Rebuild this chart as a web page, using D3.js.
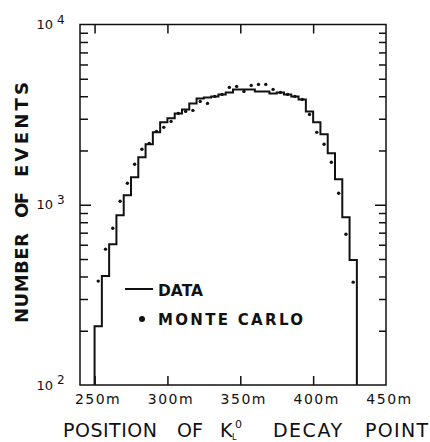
<!DOCTYPE html>
<html>
<head>
<meta charset="utf-8">
<script src="https://cdn.jsdelivr.net/npm/d3@7"></script>
<style>
  html, body { margin: 0; padding: 0; background: #fff; }
  svg text { font-family: "DejaVu Sans", sans-serif; fill: #111; }
</style>
</head>
<body>
<div id="chart"></div>
<script>
// lower edge of each 5 m bin
const binStarts = [250, 255, 260, 265, 270, 275, 280, 285, 290, 295, 300, 305,
  310, 315, 320, 325, 330, 335, 340, 345, 350, 355, 360, 365,
  370, 375, 380, 385, 390, 395, 400, 405, 410, 415, 420, 425];
const binWidth = 5;

// measured histogram (DATA)
const dataCounts = [212, 402, 604, 875, 1129, 1420, 1833, 2164, 2522, 2865, 3015, 3213,
  3381, 3650, 3890, 3940, 3991, 4094, 4201, 4364, 4364, 4364, 4255, 4255,
  4147, 4201, 4094, 3991, 3841, 3296, 2865, 2458, 1929, 1385, 853, 493];

// Monte Carlo points, one per bin centre
const mcCounts = [377, 567, 741, 1046, 1316, 1677, 2030, 2190, 2554, 2688, 2901, 3213,
  3296, 3338, 3745, 3650, 3991, 4094, 4477, 4536, 4255, 4592, 4652, 4652,
  4364, 4201, 4094, 3991, 3841, 3171, 2522, 2164, 1720, 1158, 686, 372];

const xTicks = [250, 300, 350, 400, 450];
const xTickLabels = ['250m', '300m', '350m', '400m', '450m'];
const yDecades = [100, 1000, 10000];
const yExponents = ['2', '3', '4'];

const width = 430, height = 442;
const svg = d3.select('#chart').append('svg')
  .attr('width', width).attr('height', height);

const x = d3.scaleLinear().domain([240, 450]).range([80, 386]);
const y = d3.scaleLog().domain([100, 10000]).range([385, 24.5]);

const minorTicks = [];
yDecades.slice(0, 2).forEach(d => {
  for (let k = 2; k <= 9; k++) minorTicks.push(d * k);
});

// frame
svg.append('rect')
  .attr('x', x(240)).attr('y', y(10000))
  .attr('width', x(450) - x(240)).attr('height', y(100) - y(10000))
  .attr('fill', 'none').attr('stroke', '#111').attr('stroke-width', 1.5);

function styleAxis(g) {
  g.select('.domain').remove();
  g.selectAll('.tick line').attr('stroke', '#111').attr('stroke-width', 1.5);
}

// left ticks (inward)
svg.append('g').attr('transform', `translate(${x(240)},0)`)
  .call(d3.axisRight(y).tickValues(minorTicks).tickSize(8).tickFormat(''))
  .call(styleAxis);
svg.append('g').attr('transform', `translate(${x(240)},0)`)
  .call(d3.axisRight(y).tickValues([1000]).tickSize(11).tickFormat(''))
  .call(styleAxis);

// right ticks (inward)
svg.append('g').attr('transform', `translate(${x(450)},0)`)
  .call(d3.axisLeft(y).tickValues(minorTicks).tickSize(7).tickFormat(''))
  .call(styleAxis);
svg.append('g').attr('transform', `translate(${x(450)},0)`)
  .call(d3.axisLeft(y).tickValues([1000]).tickSize(11).tickFormat(''))
  .call(styleAxis);

// top ticks
svg.append('g').attr('transform', `translate(0,${y(10000)})`)
  .call(d3.axisBottom(x).tickValues(xTicks.slice(0, 4)).tickSize(9).tickFormat(''))
  .call(styleAxis);

// bottom ticks + labels
const xAxisG = svg.append('g').attr('transform', `translate(0,${y(100)})`)
  .call(d3.axisBottom(x).tickValues(xTicks)
    .tickSizeInner(-9).tickSizeOuter(0).tickPadding(9)
    .tickFormat((d, i) => xTickLabels[i]))
  .call(styleAxis);
xAxisG.selectAll('.tick text')
  .attr('font-size', 14)
  .attr('font-family', '"DejaVu Sans", sans-serif')
  .attr('fill', '#111')
  .attr('dx', 3)
  .style('letter-spacing', '1.5px');
xAxisG.selectAll('.tick').filter(d => d === 450).select('line').remove();

// y tick labels: 10 with exponent
yDecades.forEach((d, i) => {
  svg.append('text')
    .attr('x', 53).attr('y', y(d) + 4.5)
    .attr('text-anchor', 'end')
    .attr('font-size', 13)
    .text('10');
  svg.append('text')
    .attr('x', 57).attr('y', y(d) - 1)
    .attr('font-size', 12)
    .text(yExponents[i]);
});

// histogram
const histPts = [[binStarts[0], 100]];
binStarts.forEach((b, i) => {
  histPts.push([b, dataCounts[i]]);
  histPts.push([b + binWidth, dataCounts[i]]);
});
histPts.push([binStarts[binStarts.length - 1] + binWidth, 100]);

svg.append('path')
  .datum(histPts)
  .attr('fill', 'none')
  .attr('stroke', '#111')
  .attr('stroke-width', 2)
  .attr('d', d3.line().x(d => x(d[0])).y(d => y(d[1])));

// Monte Carlo dots
svg.selectAll('.mc')
  .data(mcCounts)
  .join('circle')
  .attr('class', 'mc')
  .attr('cx', (d, i) => x(binStarts[i] + binWidth / 2))
  .attr('cy', d => y(d))
  .attr('r', 1.7)
  .attr('fill', '#111');

// legend
svg.append('line')
  .attr('x1', 125).attr('x2', 153).attr('y1', 289).attr('y2', 289)
  .attr('stroke', '#111').attr('stroke-width', 2);
svg.append('text')
  .attr('x', 158).attr('y', 296)
  .attr('font-size', 15).attr('font-weight', 'bold')
  .attr('textLength', 45).attr('lengthAdjust', 'spacingAndGlyphs')
  .text('DATA');
svg.append('circle')
  .attr('cx', 142).attr('cy', 319).attr('r', 3).attr('fill', '#111');
svg.append('text')
  .attr('x', 158).attr('y', 325)
  .attr('font-size', 15).attr('font-weight', 'bold')
  .attr('textLength', 145).attr('lengthAdjust', 'spacing')
  .text('MONTE CARLO');

// x axis title
const xTitle = [
  { t: 'POSITION', x: 63, len: 94 },
  { t: 'OF', x: 177, len: 26 },
  { t: 'K', x: 220, len: 13 },
  { t: 'DECAY', x: 273, len: 69 },
  { t: 'POINT', x: 365, len: 63 }
];
xTitle.forEach(w => {
  svg.append('text')
    .attr('x', w.x).attr('y', 437)
    .attr('font-size', 19)
    .attr('textLength', w.len).attr('lengthAdjust', 'spacing')
    .text(w.t);
});
svg.append('text').attr('x', 235).attr('y', 428).attr('font-size', 11).text('0');
svg.append('text').attr('x', 232).attr('y', 439.5).attr('font-size', 8).text('L');

// y axis title
const yTitle = [
  { t: 'NUMBER', y0: 323, len: 90 },
  { t: 'OF', y0: 218, len: 26 },
  { t: 'EVENTS', y0: 177, len: 95 }
];
yTitle.forEach(w => {
  svg.append('text')
    .attr('transform', 'rotate(-90)')
    .attr('x', -w.y0).attr('y', 28)
    .attr('font-size', 18).attr('font-weight', 'bold')
    .attr('textLength', w.len).attr('lengthAdjust', 'spacing')
    .text(w.t);
});
</script>
</body>
</html>
